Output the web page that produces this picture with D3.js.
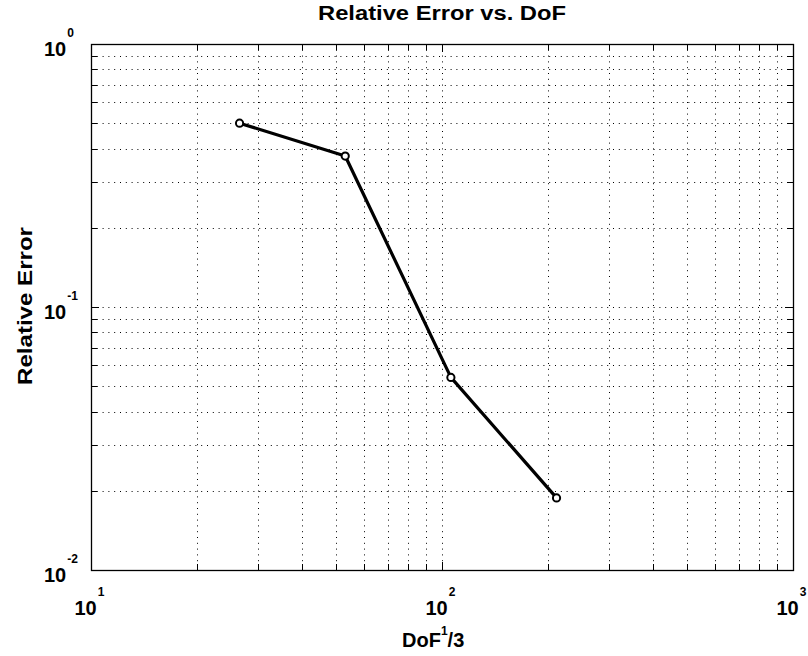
<!DOCTYPE html>
<html><head><meta charset="utf-8">
<script src="https://cdn.jsdelivr.net/npm/d3@7"></script>
<style>body{margin:0;background:#fff}svg{display:block}</style>
</head><body>
<script>
const dof = [26.5, 53, 106, 212];
const relErr = [0.50, 0.375, 0.054, 0.0188];
const xTicks = [10, 100, 1000];
const yTicks = [0.01, 0.1, 1];
const xExp = ["1", "2", "3"];
const yExp = ["-2", "-1", "0"];
const title = "Relative Error vs. DoF";
const yLabel = "Relative Error";

const W = 808, H = 656;
const m = {left: 91, right: 793, top: 44, bottom: 570};
const svg = d3.select("body").append("svg").attr("width", W).attr("height", H);
const x = d3.scaleLog().domain([10, 1000]).range([m.left, m.right]);
const y = d3.scaleLog().domain([0.01, 1]).range([m.bottom, m.top]);
const font = "Liberation Sans, Arial, Helvetica, sans-serif";

function minors(lo, hi) {
  const out = [];
  for (let d = lo; d < hi; d *= 10) for (let k = 1; k < 10; k++) out.push(d * k);
  out.push(hi);
  return out;
}
const xAll = minors(10, 1000), yAll = minors(0.01, 1);
const isMajor = v => Math.abs(Math.log10(v) - Math.round(Math.log10(v))) < 1e-9;

const grid = svg.append("g").attr("stroke", "#000").attr("stroke-width", 1).attr("stroke-dasharray", "1,4.8").attr("fill", "none");
xAll.filter(v => v > 10 && v < 1000).forEach(v => {
  const px = Math.round(x(v)) + 0.5;
  grid.append("line").attr("x1", px).attr("x2", px).attr("y1", m.top).attr("y2", m.bottom);
});
yAll.filter(v => v > 0.01 && v < 1).forEach(v => {
  const py = Math.round(y(v)) + 0.5;
  grid.append("line").attr("x1", m.left).attr("x2", m.right).attr("y1", py).attr("y2", py);
});

// ticks (inside, on all four sides)
const tk = svg.append("g").attr("stroke", "#000").attr("stroke-width", 1);
xAll.forEach(v => {
  const px = Math.round(x(v)) + 0.5, L = isMajor(v) ? 8 : 6;
  tk.append("line").attr("x1", px).attr("x2", px).attr("y1", m.bottom).attr("y2", m.bottom - L);
  tk.append("line").attr("x1", px).attr("x2", px).attr("y1", m.top).attr("y2", m.top + L);
});
yAll.forEach(v => {
  const py = Math.round(y(v)) + 0.5, L = isMajor(v) ? 8 : 6;
  tk.append("line").attr("x1", m.left).attr("x2", m.left + L).attr("y1", py).attr("y2", py);
  tk.append("line").attr("x1", m.right).attr("x2", m.right - L).attr("y1", py).attr("y2", py);
});

svg.append("rect").attr("x", m.left + 0.5).attr("y", m.top + 0.5)
  .attr("width", m.right - m.left).attr("height", m.bottom - m.top)
  .attr("fill", "none").attr("stroke", "#000").attr("stroke-width", 1.3);

// tick labels
xTicks.forEach((v, i) => {
  const t = svg.append("text").attr("x", x(v) - 16.5).attr("y", 615).attr("text-anchor", "start")
    .attr("font-family", font).attr("font-size", 20).attr("font-weight", "bold").attr("fill", "#000");
  t.append("tspan").text("10");
  t.append("tspan").attr("dx", 1).attr("dy", -19).attr("font-size", 12).text(xExp[i]);
});
yTicks.forEach((v, i) => {
  const t = svg.append("text").attr("x", 44).attr("y", y(v) + 11.5).attr("text-anchor", "start")
    .attr("font-family", font).attr("font-size", 20).attr("font-weight", "bold").attr("fill", "#000");
  t.append("tspan").text("10");
  t.append("tspan").attr("dx", 1).attr("dy", -19).attr("font-size", 12).text(yExp[i]);
});

// line and markers
const pts = dof.map((d, i) => [d, relErr[i]]);
svg.append("path").datum(pts)
  .attr("d", d3.line().x(d => x(d[0])).y(d => y(d[1])))
  .attr("fill", "none").attr("stroke", "#000").attr("stroke-width", 3.2).attr("stroke-linejoin", "round");
svg.append("g").selectAll("circle").data(pts).join("circle")
  .attr("cx", d => x(d[0])).attr("cy", d => y(d[1])).attr("r", 3.6)
  .attr("fill", "#fff").attr("stroke", "#000").attr("stroke-width", 2);

// titles
svg.append("text").attr("x", 442).attr("y", 20).attr("text-anchor", "middle")
  .attr("font-family", font).attr("font-size", 20).attr("font-weight", "bold")
  .attr("textLength", 248).attr("lengthAdjust", "spacingAndGlyphs").text(title);
const xl = svg.append("text").attr("x", 402).attr("y", 647).attr("text-anchor", "start")
  .attr("font-family", font).attr("font-size", 20).attr("font-weight", "bold");
xl.append("tspan").text("DoF");
xl.append("tspan").attr("dy", -12).attr("font-size", 12).text("1");
xl.append("tspan").attr("dy", 12).text("/3");
svg.append("text").attr("transform", "translate(32,306) rotate(-90)").attr("text-anchor", "middle")
  .attr("font-family", font).attr("font-size", 20).attr("font-weight", "bold")
  .attr("textLength", 158).attr("lengthAdjust", "spacingAndGlyphs").text(yLabel);
</script>
</body></html>
